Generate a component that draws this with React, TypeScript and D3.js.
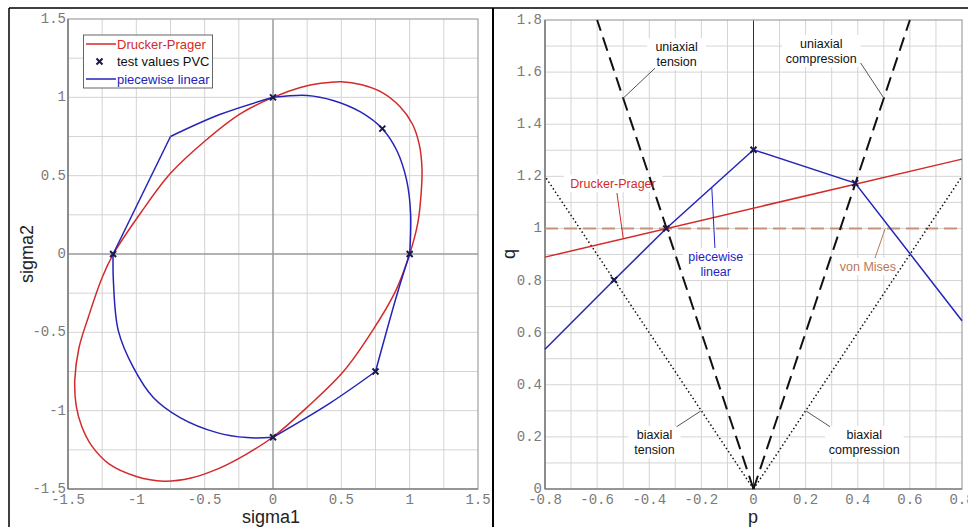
import React from 'react'
import * as d3 from 'd3'

// ── left panel: plane stress, sigma1 / sigma2 ──────────────────────────
const sigmaTicks = [-1.5, -1, -0.5, 0, 0.5, 1, 1.5]
const sigmaTickLabels = ['-1.5', '-1', '-0.5', '0', '0.5', '1', '1.5']
const sigmaGrid = [-1.25, -1, -0.75, -0.5, -0.25, 0.25, 0.5, 0.75, 1, 1.25]

// Drucker-Prager yield surface (closed)
const dpSurface: [number, number][] = [
  [1.0, 0], [1.06, 0.2], [1.085, 0.4], [1.09, 0.55], [1.07, 0.7], [1.02, 0.83], [0.93, 0.94],
  [0.8, 1.03], [0.65, 1.08], [0.5, 1.1], [0.35, 1.09], [0.2, 1.063], [0, 1],
  [-0.24, 0.895], [-0.5, 0.72], [-0.75, 0.515], [-0.97, 0.26], [-1.168, 0],
  [-1.25, -0.15], [-1.35, -0.4], [-1.42, -0.6], [-1.45, -0.8], [-1.44, -0.97], [-1.4, -1.1],
  [-1.33, -1.22], [-1.2, -1.34], [-1.0, -1.42], [-0.8, -1.45], [-0.6, -1.43], [-0.4, -1.37],
  [-0.2, -1.28], [0, -1.168], [0.26, -0.97], [0.515, -0.75], [0.72, -0.5], [0.895, -0.24],
]

// piecewise linear approximation, drawn in pieces
const pwStraight: [number, number][] = [[-1.17, 0], [-0.75, 0.75]]
const pwUpperLeft: [number, number][] = [[-0.75, 0.75], [-0.39, 0.89], [0, 1]]
const pwUpperRight: [number, number][] = [
  [0, 1], [0.25, 1.012], [0.44, 0.98], [0.64, 0.907], [0.8, 0.8], [0.905, 0.662],
  [0.978, 0.47], [1.007, 0.257], [1, 0],
]
const pwRight: [number, number][] = [[1, 0], [0.91, -0.25], [0.75, -0.75]]
const pwLowerRight: [number, number][] = [[0.75, -0.75], [0.42, -0.95], [0, -1.17]]
const pwLowerLeft: [number, number][] = [
  [0, -1.17], [-0.19, -1.172], [-0.41, -1.14], [-0.68, -1.044], [-0.876, -0.916],
  [-1.022, -0.724], [-1.132, -0.489], [-1.168, -0.17], [-1.17, 0],
]
const testPlane: [number, number][] = [[-1.17, 0], [0, 1], [0.8, 0.8], [1, 0], [0.75, -0.75], [0, -1.17]]

// ── right panel: p / q meridian ─────────────────────────────────────────
const pTicks = [-0.8, -0.6, -0.4, -0.2, 0, 0.2, 0.4, 0.6, 0.8]
const pTickLabels = ['-0.8', '-0.6', '-0.4', '-0.2', '0', '0.2', '0.4', '0.6', '0.8']
const qTicks = [0, 0.2, 0.4, 0.6, 0.8, 1, 1.2, 1.4, 1.6, 1.8]
const qTickLabels = ['0', '0.2', '0.4', '0.6', '0.8', '1', '1.2', '1.4', '1.6', '1.8']
const pGrid = [-0.7, -0.6, -0.5, -0.4, -0.3, -0.2, -0.1, 0.1, 0.2, 0.3, 0.4, 0.5, 0.6, 0.7]
const qGrid = [0.1, 0.2, 0.3, 0.4, 0.5, 0.6, 0.7, 0.8, 0.9, 1, 1.1, 1.2, 1.3, 1.4, 1.5, 1.6, 1.7]

const dpLine: [number, number][] = [[-0.8, 0.89], [0.8, 1.266]]
const vonMises: [number, number][] = [[-0.8, 1], [0.8, 1]]
const pwMeridian: [number, number][] = [[-0.8, 0.536], [-0.535, 0.802], [-0.335, 1.0], [0, 1.302], [0.39, 1.174], [0.8, 0.646]]
const uniTension: [number, number][] = [[0, 0], [-0.6, 1.8]]
const uniCompression: [number, number][] = [[0, 0], [0.6, 1.8]]
const biTension: [number, number][] = [[0, 0], [-0.8, 1.2]]
const biCompression: [number, number][] = [[0, 0], [0.8, 1.2]]
const testMeridian: [number, number][] = [[-0.535, 0.802], [-0.335, 1.0], [0, 1.302], [0.39, 1.174]]

const notes = [
  { lines: ['uniaxial', 'tension'], p: -0.295, q: 1.696, color: '#111', lead: [[-0.378, 1.615], [-0.5, 1.5]] },
  { lines: ['uniaxial', 'compression'], p: 0.26, q: 1.708, color: '#111', lead: [[0.411, 1.635], [0.5, 1.5]] },
  { lines: ['Drucker-Prager'], p: -0.539, q: 1.17, color: '#d42a2a', lead: [[-0.524, 1.136], [-0.5, 0.963]] },
  { lines: ['piecewise', 'linear'], p: -0.145, q: 0.891, color: '#2424c0', lead: [[-0.148, 0.925], [-0.16, 1.156]] },
  { lines: ['von Mises'], p: 0.439, q: 0.852, color: '#b9785a', lead: [[0.466, 0.886], [0.505, 0.999]] },
  { lines: ['biaxial', 'tension'], p: -0.38, q: 0.207, color: '#111', lead: [[-0.295, 0.239], [-0.203, 0.299]] },
  { lines: ['biaxial', 'compression'], p: 0.425, q: 0.207, color: '#111', lead: [[0.294, 0.239], [0.202, 0.299]] },
]

const RED = '#d42a2a'
const BLUE = '#2424b8'
const MONO = '"Liberation Mono", "Courier New", "DejaVu Sans Mono", monospace'
const SANS = '"Liberation Sans", Arial, sans-serif'
const tickStyle = { fontFamily: MONO, fontSize: 14, fill: '#7a7a7a' }

export default function App() {
  const lx = d3.scaleLinear().domain([-1.5, 1.5]).range([68, 478])
  const ly = d3.scaleLinear().domain([-1.5, 1.5]).range([489, 19])
  const rx = d3.scaleLinear().domain([-0.8, 0.8]).range([545, 962])
  const ry = d3.scaleLinear().domain([0, 1.8]).range([489, 20])

  const lLine = d3.line<[number, number]>().x(d => lx(d[0])).y(d => ly(d[1]))
  const lSmooth = d3.line<[number, number]>().x(d => lx(d[0])).y(d => ly(d[1])).curve(d3.curveCatmullRom)
  const lClosed = d3.line<[number, number]>().x(d => lx(d[0])).y(d => ly(d[1])).curve(d3.curveCatmullRomClosed)
  const rLine = d3.line<[number, number]>().x(d => rx(d[0])).y(d => ry(d[1]))

  const cross = (x: number, y: number, k: string) => (
    <path key={k} d={`M${x - 3},${y - 3}L${x + 3},${y + 3}M${x - 3},${y + 3}L${x + 3},${y - 3}`} stroke="#1a1a50" strokeWidth={2} />
  )

  return (
    <svg width={968} height={527} style={{ position: 'absolute', left: 0, top: 0, background: '#fff' }}>
      {/* frame */}
      <line x1={9} y1={8} x2={968} y2={8} stroke="#000" strokeWidth={1.5} />
      <line x1={9} y1={8} x2={9} y2={527} stroke="#000" strokeWidth={1.5} />
      <line x1={493} y1={8} x2={493} y2={527} stroke="#000" strokeWidth={2} />

      {/* ── LEFT ── */}
      {sigmaGrid.map(v => (
        <g key={'lg' + v}>
          <line x1={lx(v)} x2={lx(v)} y1={ly(-1.5)} y2={ly(1.5)} stroke="#d4d4d4" />
          <line x1={lx(-1.5)} x2={lx(1.5)} y1={ly(v)} y2={ly(v)} stroke="#d4d4d4" />
        </g>
      ))}
      <line x1={lx(0)} x2={lx(0)} y1={ly(-1.5)} y2={ly(1.5)} stroke="#9a9a9a" strokeWidth={1.5} />
      <line x1={lx(-1.5)} x2={lx(1.5)} y1={ly(0)} y2={ly(0)} stroke="#9a9a9a" strokeWidth={1.5} />
      <rect x={lx(-1.5)} y={ly(1.5)} width={lx(1.5) - lx(-1.5)} height={ly(-1.5) - ly(1.5)} fill="none" stroke="#a0a0a0" strokeWidth={1.2} />
      <line x1={lx(-1.5)} x2={lx(1.5)} y1={ly(-1.5)} y2={ly(-1.5)} stroke="#666" strokeWidth={1.2} />
      <line x1={lx(-1.5)} x2={lx(-1.5)} y1={ly(-1.5)} y2={ly(1.5)} stroke="#666" strokeWidth={1.2} />

      {sigmaTicks.map((v, i) => (
        <g key={'lt' + v}>
          <text x={66} y={ly(v)} textAnchor="end" dominantBaseline="central" style={tickStyle}>{sigmaTickLabels[i]}</text>
          <text x={lx(v)} y={500} textAnchor="middle" dominantBaseline="central" style={tickStyle}>{sigmaTickLabels[i]}</text>
        </g>
      ))}

      <path d={lClosed(dpSurface) || ''} fill="none" stroke={RED} strokeWidth={1.5} />
      <path d={lLine(pwStraight) || ''} fill="none" stroke={BLUE} strokeWidth={1.5} />
      {[pwUpperLeft, pwUpperRight, pwRight, pwLowerRight, pwLowerLeft].map((s, i) => (
        <path key={'pw' + i} d={lSmooth(s) || ''} fill="none" stroke={BLUE} strokeWidth={1.5} />
      ))}
      {testPlane.map((d, i) => cross(lx(d[0]), ly(d[1]), 'tp' + i))}

      {/* legend */}
      <rect x={83.5} y={35} width={129} height={53} fill="#fff" stroke="#666" strokeWidth={1} />
      <line x1={86} x2={116} y1={44} y2={44} stroke={RED} strokeWidth={1.5} />
      <text x={117} y={44} dominantBaseline="central" fontFamily={SANS} fontSize={13} fill={RED}>Drucker-Prager</text>
      {cross(99.5, 61.5, 'lgx')}
      <text x={117} y={61.5} dominantBaseline="central" fontFamily={SANS} fontSize={13} fill="#111">test values PVC</text>
      <line x1={86} x2={116} y1={79} y2={79} stroke={BLUE} strokeWidth={1.5} />
      <text x={117} y={79} dominantBaseline="central" fontFamily={SANS} fontSize={13} fill={BLUE}>piecewise linear</text>

      <text x={271} y={523} textAnchor="middle" fontFamily={SANS} fontSize={18} fill="#222">sigma1</text>
      <text x={0} y={0} transform="translate(33,254) rotate(-90)" textAnchor="middle" fontFamily={SANS} fontSize={18} fill="#222">sigma2</text>

      {/* ── RIGHT ── */}
      {pGrid.map(v => (
        <line key={'pg' + v} x1={rx(v)} x2={rx(v)} y1={ry(0)} y2={ry(1.8)} stroke="#d4d4d4" />
      ))}
      {qGrid.map(v => (
        <line key={'qg' + v} x1={rx(-0.8)} x2={rx(0.8)} y1={ry(v)} y2={ry(v)} stroke="#d4d4d4" />
      ))}
      <line x1={rx(0)} x2={rx(0)} y1={ry(0)} y2={ry(1.8)} stroke="#333" strokeWidth={1} />
      <rect x={rx(-0.8)} y={ry(1.8)} width={rx(0.8) - rx(-0.8)} height={ry(0) - ry(1.8)} fill="none" stroke="#a0a0a0" strokeWidth={1.2} />
      <line x1={rx(-0.8)} x2={rx(0.8)} y1={ry(0)} y2={ry(0)} stroke="#666" strokeWidth={1.2} />
      <line x1={rx(-0.8)} x2={rx(-0.8)} y1={ry(0)} y2={ry(1.8)} stroke="#666" strokeWidth={1.2} />

      {qTicks.map((v, i) => (
        <text key={'qt' + v} x={542} y={ry(v)} textAnchor="end" dominantBaseline="central" style={tickStyle}>{qTickLabels[i]}</text>
      ))}
      {pTicks.map((v, i) => (
        <text key={'pt' + v} x={rx(v)} y={500} textAnchor="middle" dominantBaseline="central" style={tickStyle}>{pTickLabels[i]}</text>
      ))}

      {/* annotation backgrounds */}
      {notes.map((n, i) => {
        const w = Math.max(...n.lines.map(s => s.length)) * 6.6 + 6
        const h = n.lines.length * 15 + 2
        return <rect key={'nb' + i} x={rx(n.p) - w / 2} y={ry(n.q) - 9} width={w} height={h} fill="#fff" />
      })}

      <path d={rLine(vonMises) || ''} fill="none" stroke="#c8927a" strokeWidth={2} strokeDasharray="13,6" />
      <path d={rLine(biTension) || ''} fill="none" stroke="#111" strokeWidth={1.5} strokeDasharray="1.5,2.5" />
      <path d={rLine(biCompression) || ''} fill="none" stroke="#111" strokeWidth={1.5} strokeDasharray="1.5,2.5" />
      <path d={rLine(uniTension) || ''} fill="none" stroke="#111" strokeWidth={2} strokeDasharray="14,7" />
      <path d={rLine(uniCompression) || ''} fill="none" stroke="#111" strokeWidth={2} strokeDasharray="14,7" />
      <path d={rLine(dpLine) || ''} fill="none" stroke={RED} strokeWidth={1.5} />
      <path d={rLine(pwMeridian) || ''} fill="none" stroke={BLUE} strokeWidth={1.5} />
      {testMeridian.map((d, i) => cross(rx(d[0]), ry(d[1]), 'tm' + i))}

      {notes.map((n, i) => (
        <g key={'n' + i}>
          <path d={rLine(n.lead as [number, number][]) || ''} fill="none" stroke={n.color === '#111' ? '#555' : n.color} strokeWidth={1} />
          {n.lines.map((s, j) => (
            <text key={j} x={rx(n.p)} y={ry(n.q) + j * 15} textAnchor="middle" dominantBaseline="central" fontFamily={SANS} fontSize={12.5} fill={n.color}>{s}</text>
          ))}
        </g>
      ))}

      <text x={753} y={523} textAnchor="middle" fontFamily={SANS} fontSize={18} fill="#222">p</text>
      <text x={0} y={0} transform="translate(515,254) rotate(-90)" textAnchor="middle" fontFamily={SANS} fontSize={18} fill="#222">q</text>
    </svg>
  )
}
